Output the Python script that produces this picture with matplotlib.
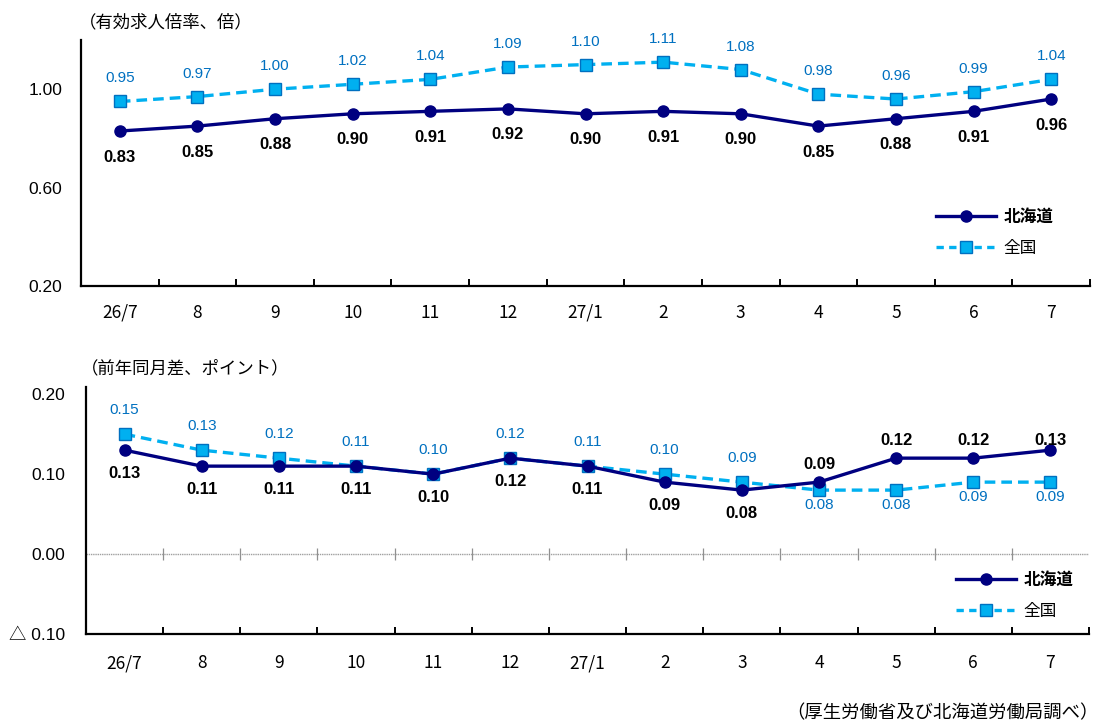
import matplotlib
matplotlib.use("Agg")
import matplotlib.pyplot as plt
from matplotlib.lines import Line2D

plt.rcParams['font.family'] = ['Noto Sans CJK JP', 'DejaVu Sans']

# ---- data ----
months = ["26/7", "8", "9", "10", "11", "12", "27/1", "2", "3", "4", "5", "6", "7"]

ratio_hokkaido = [0.83, 0.85, 0.88, 0.90, 0.91, 0.92, 0.90, 0.91, 0.90, 0.85, 0.88, 0.91, 0.96]
ratio_national = [0.95, 0.97, 1.00, 1.02, 1.04, 1.09, 1.10, 1.11, 1.08, 0.98, 0.96, 0.99, 1.04]

diff_hokkaido = [0.13, 0.11, 0.11, 0.11, 0.10, 0.12, 0.11, 0.09, 0.08, 0.09, 0.12, 0.12, 0.13]
diff_national = [0.15, 0.13, 0.12, 0.11, 0.10, 0.12, 0.11, 0.10, 0.09, 0.08, 0.08, 0.09, 0.09]

NAME_HOKKAIDO = "北海道"
NAME_NATIONAL = "全国"

# ---- styles ----
NAVY = "#000080"
CYAN = "#00B0F0"
BLUE = "#0070C0"
W, H = 1099, 724
PX = 72 / 100  # points per pixel at dpi 100

fig = plt.figure(figsize=(W / 100, H / 100), dpi=100)


def fig_rect(left, top, right, bottom):
    return [left / W, 1 - bottom / H, (right - left) / W, (bottom - top) / H]


def style_axis(ax, ylim, yticks, yticklabels, label_pad_px, ypad_px):
    n = len(months)
    ax.set_xlim(-0.5, n - 0.5)
    ax.set_ylim(*ylim)
    for s in ("top", "right"):
        ax.spines[s].set_visible(False)
    for s in ("left", "bottom"):
        ax.spines[s].set_color("black")
        ax.spines[s].set_linewidth(1.6)
    ax.set_xticks(range(n))
    ax.set_xticklabels(months, fontsize=12.5)
    ax.tick_params(axis="x", which="major", length=0, pad=label_pad_px * PX)
    ax.set_xticks([i + 0.5 for i in range(n)], minor=True)
    ax.tick_params(axis="x", which="minor", direction="in", length=5, width=1.4)
    ax.set_yticks(yticks)
    ax.set_yticklabels(yticklabels, fontsize=12.5, family=["Liberation Sans", "Noto Sans CJK JP"])
    ax.tick_params(axis="y", length=0, pad=ypad_px * PX)


def plot_series(ax, hok, nat):
    x = range(len(months))
    ax.plot(x, nat, color=CYAN, lw=2.4, ls=(0, (3.2, 1.8)), marker="s", ms=8,
            mfc=CYAN, mec=BLUE, mew=1.0, zorder=3)
    ax.plot(x, hok, color=NAVY, lw=2.4, marker="o", ms=8,
            mfc=NAVY, mec=NAVY, zorder=4)


def annotate(ax, values, offsets_px, color, weight, size):
    for i, (v, off) in enumerate(zip(values, offsets_px)):
        ax.annotate(f"{v:.2f}", (i, v), xytext=(0, off * PX), textcoords="offset points",
                    ha="center", va="center", color=color, fontweight=weight,
                    fontsize=size, family=["Liberation Sans", "DejaVu Sans"], zorder=5)


def add_legend(ax, x_px, y_px):
    handles = [
        Line2D([], [], color=NAVY, lw=2.4, marker="o", ms=8, mfc=NAVY, mec=NAVY),
        Line2D([], [], color=CYAN, lw=2.4, ls=(0, (2.2, 1.6)), marker="s", ms=8,
               mfc=CYAN, mec=BLUE, mew=1.0),
    ]
    leg = ax.legend(handles, [NAME_HOKKAIDO, NAME_NATIONAL], loc="center left",
                    bbox_to_anchor=(x_px / W, 1 - y_px / H),
                    bbox_transform=fig.transFigure, frameon=False, fontsize=12,
                    handlelength=3.6, handletextpad=0.45, labelspacing=0.85,
                    borderpad=0, borderaxespad=0)
    leg.get_texts()[0].set_fontweight("bold")


# ---- upper panel: job openings-to-applicants ratio ----
ax1 = fig.add_axes(fig_rect(81, 40, 1090, 286))
style_axis(ax1, (0.2, 1.2), [0.2, 0.6, 1.0], ["0.20", "0.60", "1.00"], 18, 19)
plot_series(ax1, ratio_hokkaido, ratio_national)
annotate(ax1, ratio_national, [23] * len(months), BLUE, "normal", 11)
annotate(ax1, ratio_hokkaido, [-26] * len(months), "black", "bold", 12)
add_legend(ax1, 936, 232)
fig.text(79 / W, 1 - 22 / H, "（有効求人倍率、倍）", fontsize=12.5, ha="left", va="center")

# ---- lower panel: change from the same month a year earlier ----
ax2 = fig.add_axes(fig_rect(86, 387, 1089, 634))
style_axis(ax2, (-0.1, 0.209), [-0.1, 0.0, 0.1, 0.2], ["△ 0.10", "0.00", "0.10", "0.20"], 20, 21)
ax2.axhline(0, color="#A0A0A0", lw=1.0, ls=(0, (1, 0.6)), zorder=1)
ax2.plot([i + 0.5 for i in range(len(months) - 1)], [0] * (len(months) - 1),
         ls="none", marker="|", ms=9, mew=0.9, color="#909090", zorder=1)
plot_series(ax2, diff_hokkaido, diff_national)

nat_off = [24] * 9 + [-15] * 4
hok_off = [-23] * 9 + [18, 18, 18, 10]
annotate(ax2, diff_national, nat_off, BLUE, "normal", 11)
annotate(ax2, diff_hokkaido, hok_off, "black", "bold", 12)
add_legend(ax2, 956, 595)
fig.text(81 / W, 1 - 368 / H, "（前年同月差、ポイント）", fontsize=12.5, ha="left", va="center")

fig.text(1099 / W, 1 - 713 / H, "（厚生労働省及び北海道労働局調べ）", fontsize=13.2,
         ha="right", va="center")

fig.savefig("out.png", dpi=100)
